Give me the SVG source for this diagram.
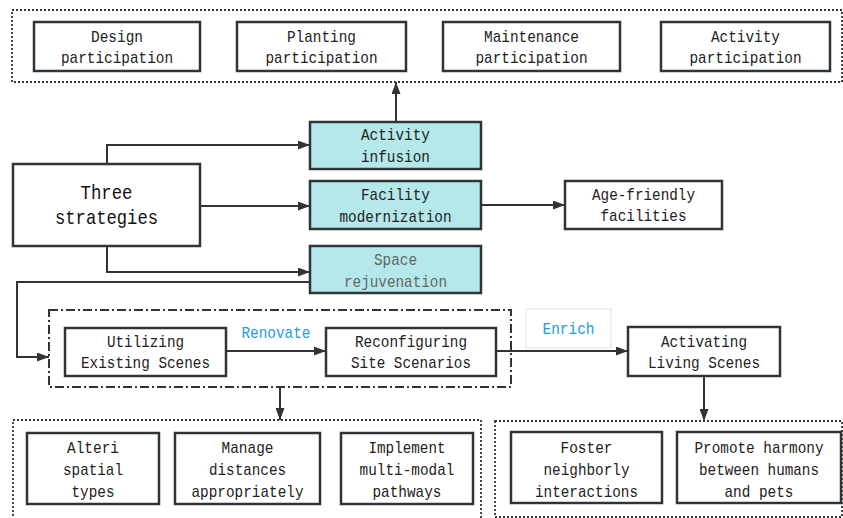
<svg xmlns="http://www.w3.org/2000/svg" width="843" height="518" viewBox="0 0 843 518">
<defs>
<marker id="arr" viewBox="0 0 12 9" refX="12" refY="4.5" markerWidth="12" markerHeight="9" markerUnits="userSpaceOnUse" orient="auto">
<path d="M0,0 L12,4.5 L0,9 z" fill="#333"/>
</marker>
<style>
.box{fill:#fff;stroke:#2f3438;stroke-width:2.5}
.cyan{fill:#b5e8ea;stroke:#2f3438;stroke-width:2.5}
.dot{fill:none;stroke:#333;stroke-width:1.8;stroke-dasharray:2 2}
.dd{fill:none;stroke:#333;stroke-width:2;stroke-dasharray:9 3 2 3}
.t{font-family:"Liberation Mono","DejaVu Sans Mono",monospace;font-size:17px;fill:#222;text-anchor:middle}
.big{font-size:21px;fill:#111}
.gray{fill:#666}
.blue{fill:#1e9be0}
.c{fill:none;stroke:#333;stroke-width:2;marker-end:url(#arr)}
</style>
</defs>
<rect width="843" height="518" fill="#fff"/>

<g id="top-group"><rect class="dot" x="12" y="10" width="830" height="72"/></g>
<g id="scenes-group"><rect class="dd" x="49" y="310" width="462" height="77"/></g>
<g id="bottom-left-group"><rect class="dot" x="13" y="420" width="468" height="110"/></g>
<g id="bottom-right-group"><rect class="dot" x="495" y="421" width="347" height="96"/></g>

<g id="design"><rect class="box" x="34" y="22" width="166" height="49"/>
<text class="t" x="117" y="42" textLength="52" lengthAdjust="spacingAndGlyphs">Design</text>
<text class="t" x="117" y="63" textLength="112" lengthAdjust="spacingAndGlyphs">participation</text></g>
<g id="planting"><rect class="box" x="237" y="22" width="169" height="49"/>
<text class="t" x="321.5" y="42" textLength="69" lengthAdjust="spacingAndGlyphs">Planting</text>
<text class="t" x="321.5" y="63" textLength="112" lengthAdjust="spacingAndGlyphs">participation</text></g>
<g id="maintenance"><rect class="box" x="443" y="22" width="177" height="49"/>
<text class="t" x="531.5" y="42" textLength="95" lengthAdjust="spacingAndGlyphs">Maintenance</text>
<text class="t" x="531.5" y="63" textLength="112" lengthAdjust="spacingAndGlyphs">participation</text></g>
<g id="activity"><rect class="box" x="661" y="22" width="169" height="49"/>
<text class="t" x="745.5" y="42" textLength="69" lengthAdjust="spacingAndGlyphs">Activity</text>
<text class="t" x="745.5" y="63" textLength="112" lengthAdjust="spacingAndGlyphs">participation</text></g>

<g id="three-strategies"><rect class="box" x="13" y="164" width="187" height="82"/>
<text class="t big" x="106.5" y="199" textLength="52" lengthAdjust="spacingAndGlyphs">Three</text>
<text class="t big" x="106.5" y="224" textLength="103" lengthAdjust="spacingAndGlyphs">strategies</text></g>

<g id="activity-infusion"><rect class="cyan" x="310" y="122" width="171" height="47"/>
<text class="t" x="395.5" y="140" textLength="69" lengthAdjust="spacingAndGlyphs">Activity</text>
<text class="t" x="395.5" y="162" textLength="69" lengthAdjust="spacingAndGlyphs">infusion</text></g>
<g id="facility-modernization"><rect class="cyan" x="310" y="181" width="171" height="48"/>
<text class="t" x="395.5" y="200" textLength="69" lengthAdjust="spacingAndGlyphs">Facility</text>
<text class="t" x="395.5" y="222" textLength="112" lengthAdjust="spacingAndGlyphs">modernization</text></g>
<g id="space-rejuvenation"><rect class="cyan" x="310" y="246" width="171" height="47"/>
<text class="t gray" x="395.5" y="265" textLength="43" lengthAdjust="spacingAndGlyphs">Space</text>
<text class="t gray" x="395.5" y="287" textLength="103" lengthAdjust="spacingAndGlyphs">rejuvenation</text></g>

<g id="age-friendly"><rect class="box" x="565" y="181" width="157" height="48"/>
<text class="t" x="643.5" y="200" textLength="103" lengthAdjust="spacingAndGlyphs">Age-friendly</text>
<text class="t" x="643.5" y="221" textLength="86" lengthAdjust="spacingAndGlyphs">facilities</text></g>

<g id="utilizing"><rect class="box" x="65" y="328" width="161" height="48"/>
<text class="t" x="145.5" y="347" textLength="77" lengthAdjust="spacingAndGlyphs">Utilizing</text>
<text class="t" x="145.5" y="368" textLength="129" lengthAdjust="spacingAndGlyphs">Existing Scenes</text></g>
<g id="reconfiguring"><rect class="box" x="326" y="328" width="170" height="48"/>
<text class="t" x="411" y="347" textLength="112" lengthAdjust="spacingAndGlyphs">Reconfiguring</text>
<text class="t" x="411" y="368" textLength="120" lengthAdjust="spacingAndGlyphs">Site Scenarios</text></g>
<g id="activating"><rect class="box" x="628" y="327" width="152" height="49"/>
<text class="t" x="704" y="347" textLength="86" lengthAdjust="spacingAndGlyphs">Activating</text>
<text class="t" x="704" y="368" textLength="112" lengthAdjust="spacingAndGlyphs">Living Scenes</text></g>

<g id="alteri"><rect class="box" x="27" y="433" width="132" height="71"/>
<text class="t" x="93" y="453" textLength="52" lengthAdjust="spacingAndGlyphs">Alteri</text>
<text class="t" x="93" y="475" textLength="60" lengthAdjust="spacingAndGlyphs">spatial</text>
<text class="t" x="93" y="497" textLength="43" lengthAdjust="spacingAndGlyphs">types</text></g>
<g id="manage"><rect class="box" x="175" y="433" width="145" height="71"/>
<text class="t" x="247.5" y="453" textLength="52" lengthAdjust="spacingAndGlyphs">Manage</text>
<text class="t" x="247.5" y="475" textLength="77" lengthAdjust="spacingAndGlyphs">distances</text>
<text class="t" x="247.5" y="497" textLength="112" lengthAdjust="spacingAndGlyphs">appropriately</text></g>
<g id="implement"><rect class="box" x="341" y="433" width="132" height="71"/>
<text class="t" x="407" y="453" textLength="77" lengthAdjust="spacingAndGlyphs">Implement</text>
<text class="t" x="407" y="475" textLength="95" lengthAdjust="spacingAndGlyphs">multi-modal</text>
<text class="t" x="407" y="497" textLength="69" lengthAdjust="spacingAndGlyphs">pathways</text></g>
<g id="foster"><rect class="box" x="511" y="432" width="151" height="71"/>
<text class="t" x="586.5" y="453" textLength="52" lengthAdjust="spacingAndGlyphs">Foster</text>
<text class="t" x="586.5" y="475" textLength="86" lengthAdjust="spacingAndGlyphs">neighborly</text>
<text class="t" x="586.5" y="497" textLength="103" lengthAdjust="spacingAndGlyphs">interactions</text></g>
<g id="promote"><rect class="box" x="677" y="432" width="164" height="71"/>
<text class="t" x="759" y="453" textLength="129" lengthAdjust="spacingAndGlyphs">Promote harmony</text>
<text class="t" x="759" y="475" textLength="120" lengthAdjust="spacingAndGlyphs">between humans</text>
<text class="t" x="759" y="497" textLength="69" lengthAdjust="spacingAndGlyphs">and pets</text></g>

<g id="connectors">
<path class="c" d="M107,164 V145 H310"/>
<path class="c" d="M200,206 H310"/>
<path class="c" d="M107,246 V272 H310"/>
<path class="c" d="M396,122 V82"/>
<path class="c" d="M481,205 H565"/>
<path class="c" d="M310,282 H17 V357 H49"/>
<path class="c" d="M226,351 H326"/>
<path class="c" d="M496,351 H628"/>
<path class="c" d="M280,387 V420"/>
<path class="c" d="M704,376 V421"/>
</g>

<g id="renovate-label"><text class="t blue" x="276" y="338" textLength="69" lengthAdjust="spacingAndGlyphs">Renovate</text></g>
<g id="enrich-label"><rect x="526" y="309" width="85" height="39" fill="#fff" stroke="#e2e2e2" stroke-width="1"/>
<text class="t blue" x="568.5" y="334" textLength="52" lengthAdjust="spacingAndGlyphs">Enrich</text></g>
</svg>
